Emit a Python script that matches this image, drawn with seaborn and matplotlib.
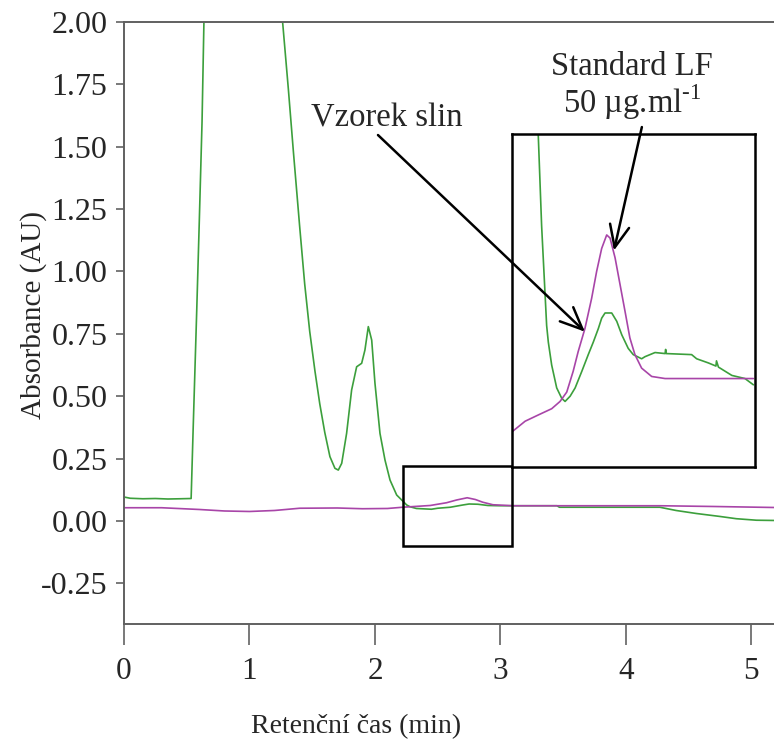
import matplotlib
matplotlib.use("Agg")
import matplotlib.pyplot as plt
import matplotlib.patches as patches
import numpy as np
import pandas as pd
import seaborn as sns

# chromatogram traces (time in min, absorbance in AU)
vzorek_time = [0.00, 0.05, 0.15, 0.25, 0.35, 0.45, 0.535, 0.55, 0.58, 0.60, 0.622, 0.637, 0.66,
               0.80, 1.00, 1.15, 1.22, 1.264, 1.31, 1.35, 1.40, 1.44, 1.48, 1.522, 1.56, 1.60,
               1.641, 1.681, 1.708, 1.735, 1.774, 1.814, 1.854, 1.894, 1.920, 1.947, 1.974,
               2.00, 2.04, 2.08, 2.12, 2.173, 2.213, 2.253, 2.279, 2.33, 2.45, 2.50, 2.60,
               2.70, 2.75, 2.82, 2.90, 3.00, 3.10, 3.45, 3.47, 4.27, 4.40, 4.56, 4.75, 4.88,
               5.04, 5.18]
vzorek_abs = [0.096, 0.091, 0.089, 0.090, 0.088, 0.089, 0.090, 0.35, 0.85, 1.20, 1.60, 2.00, 2.30,
              2.60, 2.65, 2.50, 2.25, 2.00, 1.73, 1.48, 1.18, 0.95, 0.76, 0.60, 0.47, 0.355,
              0.258, 0.211, 0.204, 0.231, 0.351, 0.525, 0.618, 0.632, 0.685, 0.779, 0.725,
              0.552, 0.351, 0.244, 0.164, 0.104, 0.084, 0.064, 0.057, 0.050, 0.047, 0.051, 0.055,
              0.064, 0.068, 0.067, 0.062, 0.061, 0.061, 0.061, 0.055, 0.055, 0.042, 0.030, 0.018, 0.009,
              0.003, 0.002]

standard_time = [0.0, 0.3, 0.6, 0.8, 1.0, 1.2, 1.4, 1.7, 1.9, 2.1, 2.22, 2.44, 2.57, 2.65, 2.735,
                 2.80, 2.86, 2.94, 3.10, 4.27, 4.70, 5.18]
standard_abs = [0.053, 0.053, 0.046, 0.040, 0.038, 0.042, 0.051, 0.052, 0.049, 0.050, 0.055, 0.062,
                0.073, 0.084, 0.093, 0.086, 0.075, 0.065, 0.061, 0.061, 0.058, 0.054]

# detail traces shown in the enlarged inset
zoom_vzorek_time = [2.312, 2.314, 2.326, 2.338, 2.344, 2.350, 2.362, 2.380, 2.398, 2.410, 2.428,
                    2.446, 2.470, 2.493, 2.511, 2.529, 2.541, 2.553, 2.577, 2.595, 2.613, 2.636,
                    2.654, 2.684, 2.696, 2.732, 2.768, 2.770, 2.772, 2.863, 2.881, 2.923, 2.950,
                    2.952, 2.959, 3.007, 3.054, 3.084]
zoom_vzorek_abs = [0.26, 0.219, 0.132, 0.068, 0.036, 0.020, -0.002, -0.024, -0.034, -0.037, -0.032,
                   -0.024, -0.008, 0.008, 0.020, 0.033, 0.043, 0.048, 0.048, 0.040, 0.027, 0.014,
                   0.008, 0.004, 0.006, 0.010, 0.009, 0.013, 0.009, 0.008, 0.004, 0.000, -0.003,
                   0.002, -0.004, -0.012, -0.015, -0.021]
zoom_standard_time = [2.221, 2.267, 2.314, 2.362, 2.392, 2.416, 2.439, 2.457, 2.481, 2.505, 2.523,
                      2.541, 2.559, 2.571, 2.589, 2.607, 2.625, 2.642, 2.660, 2.684, 2.720, 2.768,
                      2.911, 3.084]
zoom_standard_abs = [-0.066, -0.056, -0.050, -0.044, -0.037, -0.028, -0.008, 0.011, 0.033, 0.062,
                     0.088, 0.110, 0.123, 0.120, 0.101, 0.075, 0.049, 0.024, 0.008, -0.005, -0.013,
                     -0.015, -0.015, -0.015]

x_ticks = [0, 1, 2, 3, 4, 5]
y_ticks = [-0.25, 0.0, 0.25, 0.5, 0.75, 1.0, 1.25, 1.5, 1.75, 2.0]
zoom_box = (2.22, 3.09, -0.10, 0.22)

green = "#3c9f3c"
purple = "#a845a8"


def main() -> None:
    sns.set_style("ticks")
    plt.rcParams["font.family"] = ["Liberation Serif", "DejaVu Serif"]
    plt.rcParams["mathtext.fontset"] = "custom"
    plt.rcParams["mathtext.rm"] = "Liberation Serif"

    fig = plt.figure(figsize=(7.74, 7.49), dpi=100)
    ax = fig.add_axes([0.1602, 0.1669, 0.8398, 0.8037])

    df_v = pd.DataFrame({"t": vzorek_time, "a": vzorek_abs})
    df_s = pd.DataFrame({"t": standard_time, "a": standard_abs})
    sns.lineplot(data=df_v, x="t", y="a", ax=ax, color=green, lw=1.2, estimator=None, sort=False)
    sns.lineplot(data=df_s, x="t", y="a", ax=ax, color=purple, lw=1.2, estimator=None, sort=False)

    ax.set_xlim(0, 5.18)
    ax.set_ylim(-0.413, 2.0)
    ax.set_xticks(x_ticks)
    ax.set_yticks(y_ticks)
    ax.set_yticklabels([f"{v:.2f}" for v in y_ticks])
    ax.tick_params(axis="x", length=15, width=1.1, color="#555555", labelsize=22.5, pad=9)
    ax.tick_params(axis="y", length=6, width=1.1, color="#555555", labelsize=23, pad=6)
    for side in ["left", "bottom", "top"]:
        ax.spines[side].set_color("#606060")
        ax.spines[side].set_linewidth(1.4)
    ax.spines["right"].set_visible(False)

    ax.set_xlabel("Retenční čas (min)", fontsize=20)
    ax.xaxis.set_label_coords(0.357, -0.150)
    ax.set_ylabel("Absorbance (AU)", fontsize=21)
    ax.yaxis.set_label_coords(-0.118, 0.513)

    # box marking the enlarged region
    x0, x1, y0, y1 = zoom_box
    ax.add_patch(patches.Rectangle((x0, y0), x1 - x0, y1 - y0, fill=False,
                                   edgecolor="black", lw=1.8, zorder=5))

    # enlarged inset
    ax_in = fig.add_axes([0.6615, 0.3765, 0.314, 0.4446])
    zv = pd.DataFrame({"t": zoom_vzorek_time, "a": zoom_vzorek_abs})
    zs = pd.DataFrame({"t": zoom_standard_time, "a": zoom_standard_abs})
    sns.lineplot(data=zv, x="t", y="a", ax=ax_in, color=green, lw=1.2, estimator=None, sort=False)
    sns.lineplot(data=zs, x="t", y="a", ax=ax_in, color=purple, lw=1.2, estimator=None, sort=False)
    ax_in.set_xlim(x0, x1)
    ax_in.set_ylim(y0, y1)
    ax_in.set_xticks([])
    ax_in.set_yticks([])
    ax_in.set_xlabel("")
    ax_in.set_ylabel("")
    for side in ax_in.spines.values():
        side.set_color("black")
        side.set_linewidth(1.8)

    ax.text(2.096, 1.580, "Vzorek slin", fontsize=23.5, ha="center", va="baseline")
    ax.text(4.048, 1.788, "Standard LF", fontsize=23.5, ha="center", va="baseline")
    ax.text(4.048, 1.634, r"50 µg.ml$^{\text{-1}}$", fontsize=23.5, ha="center", va="baseline")

    arrow = dict(arrowstyle="->,head_length=0.8,head_width=0.35", lw=1.8, color="black",
                 mutation_scale=20, shrinkA=0, shrinkB=0)
    ax_in.annotate("", xy=(2.481, 0.030), xycoords="data",
                   xytext=(2.024, 1.547), textcoords=ax.transData,
                   arrowprops=arrow, annotation_clip=False)
    ax_in.annotate("", xy=(2.585, 0.108), xycoords="data",
                   xytext=(4.127, 1.579), textcoords=ax.transData,
                   arrowprops=arrow, annotation_clip=False)

    fig.savefig("out.png", dpi=100)


if __name__ == "__main__":
    main()
